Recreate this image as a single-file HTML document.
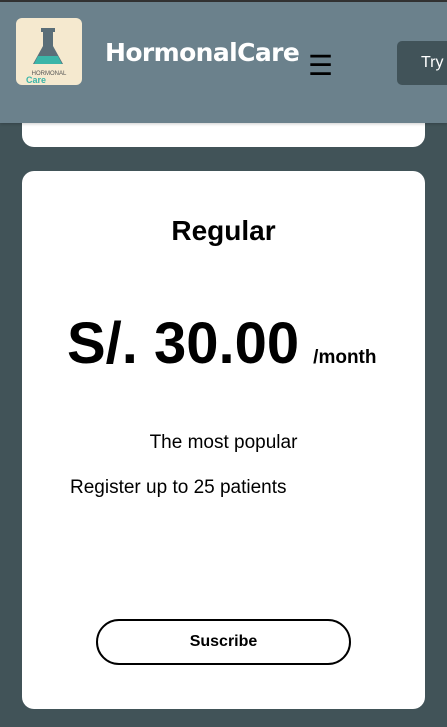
<!DOCTYPE html>
<html><head><meta charset="utf-8"><style>
*{margin:0;padding:0;box-sizing:border-box}
body{width:447px;height:727px;overflow:hidden;background:#415358;font-family:"Liberation Sans",sans-serif;position:relative}
.top{position:absolute;left:0;top:0;width:447px;height:2px;background:#333}
.hdr{position:absolute;left:0;top:2px;width:447px;height:121px;background:#6b818c;box-shadow:0 1px 3px rgba(0,0,0,.2);z-index:2}
.logo{position:absolute;left:16px;top:16px;width:66px;height:67px;background:#f5e9cf;border-radius:6px;overflow:hidden}
.title{position:absolute;left:105px;top:36px;color:#fff;font-weight:bold;font-size:25px;font-family:"DejaVu Sans","Liberation Sans",sans-serif;letter-spacing:-0.6px}
.ham{position:absolute;left:308px;top:50px;font-size:28px;color:#000;line-height:1}
.try{position:absolute;left:397px;top:39px;width:70px;height:44px;background:#415359;border-radius:5px;color:#fff;font-size:16px;padding:13px 0 0 24px}
.card{position:absolute;background:#fff;border-radius:12px;left:22px;width:403px}
.c1{top:100px;height:47px;z-index:1}
.c2{top:171px;height:538px;text-align:center}
.plan{position:absolute;top:44px;width:100%;font-size:28px;font-weight:bold}
.price{position:absolute;top:139px;left:45px;font-size:58px;font-weight:bold;white-space:nowrap}
.per{font-size:19px;margin-left:14px}
.pop{position:absolute;top:261px;width:100%;font-size:19px}
.reg{position:absolute;top:306px;left:48px;font-size:19px}
.btn{position:absolute;left:74px;top:448px;width:255px;height:46px;border:2px solid #000;border-radius:23px;font-weight:bold;font-size:16px;line-height:42px;background:#fff}
</style></head><body>
<div class="top"></div>
<div class="hdr">
 <div class="logo">
  <svg width="66" height="67" viewBox="0 0 66 67">
   <rect x="25" y="10" width="14" height="4" fill="#5a6e78"/>
   <path d="M27 14 V28 L17 46 H47 L37 28 V14Z" fill="#5a6e78"/>
   <path d="M22 38 L42 38 L46 46 H18Z" fill="#3bb5a8"/>
   <text x="33" y="57" font-size="6" text-anchor="middle" fill="#555" font-family="Liberation Sans">HORMONAL</text>
   <text x="20" y="65" font-size="9" font-weight="bold" text-anchor="middle" fill="#3bb5a8" font-family="Liberation Sans">Care</text>
  </svg>
 </div>
 <div class="title">HormonalCare</div>
 <div class="ham">☰</div>
 <div class="try">Try</div>
</div>
<div class="card c1"></div>
<div class="card c2">
 <div class="plan">Regular</div>
 <div class="price">S/. 30.00<span class="per">/month</span></div>
 <div class="pop">The most popular</div>
 <div class="reg">Register up to 25 patients</div>
 <div class="btn">Suscribe</div>
</div>
</body></html>
